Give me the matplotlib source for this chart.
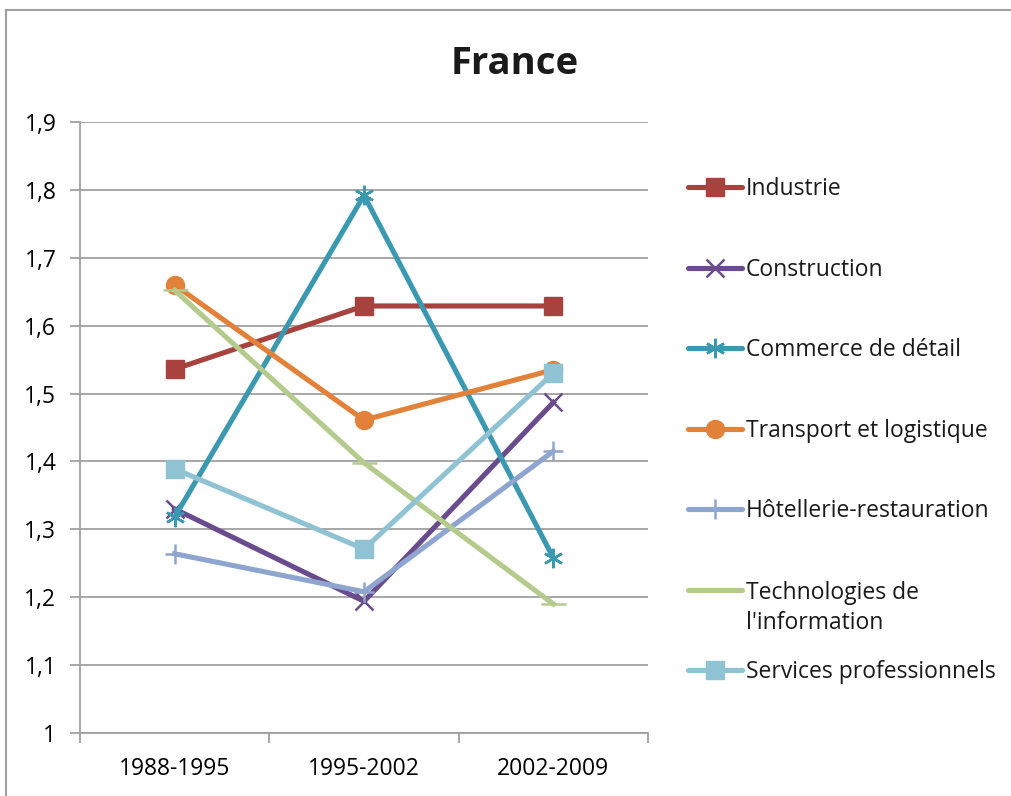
import matplotlib.pyplot as plt
from matplotlib.lines import Line2D
from matplotlib.patches import Rectangle
import numpy as np

plt.rcParams['font.family'] = ['Open Sans', 'DejaVu Sans']

periods = ["1988-1995", "1995-2002", "2002-2009"]
y_ticks = [1.0, 1.1, 1.2, 1.3, 1.4, 1.5, 1.6, 1.7, 1.8, 1.9]
y_tick_labels = ["1", "1,1", "1,2", "1,3", "1,4", "1,5", "1,6", "1,7", "1,8", "1,9"]

series_names = ["Industrie", "Construction", "Commerce de détail",
                "Transport et logistique", "Hôtellerie-restauration",
                "Technologies de\nl'information", "Services professionnels"]
industrie = [1.536, 1.629, 1.629]
construction = [1.330, 1.194, 1.487]
commerce = [1.318, 1.792, 1.258]
transport = [1.660, 1.461, 1.535]
hotellerie = [1.264, 1.208, 1.415]
technologies = [1.652, 1.398, 1.190]
services = [1.389, 1.271, 1.530]
all_values = [industrie, construction, commerce, transport, hotellerie, technologies, services]

colors = ["#A8423F", "#6A4C8E", "#3A98B1", "#E2823A", "#8EA6CF", "#B5CB8E", "#8FC3D4"]
markers = ["s", "x", "*", "o", "+", "_", "s"]
msizes = [13, 13, 14, 13, 14, 18, 13]

fig = plt.figure(figsize=(10.11, 7.96), dpi=100)
ax = fig.add_axes([80 / 1011, 1 - 733 / 796, 568 / 1011, 611 / 796])


def mk_of(m):
    # Excel's "star" marker looks like a 6-spoke asterisk
    return (6, 2, 0) if m == "*" else m


x = np.arange(len(periods))
for vals, c, m, ms in zip(all_values, colors, markers, msizes):
    if m in ("x", "+", "_", "*"):
        ax.plot(x, vals, color=c, lw=3.7, marker=mk_of(m), ms=ms, mew=1.8, zorder=3)
    else:
        ax.plot(x, vals, color=c, lw=3.7, marker=m, ms=ms, mec=c, zorder=3)

ax.set_xlim(-0.5, 2.5)
ax.set_ylim(1.0, 1.9)
ax.set_yticks(y_ticks)
ax.set_yticklabels(y_tick_labels, fontsize=16.5)
ax.set_xticks(x)
ax.set_xticklabels(periods, fontsize=16.5)
ax.set_xticks([-0.5, 0.5, 1.5, 2.5], minor=True)
ax.tick_params(axis='x', which='major', length=0, pad=17)
ax.tick_params(axis='x', which='minor', length=7, color='#A0A0A0', width=1.3)
ax.tick_params(axis='y', length=7, color='#A0A0A0', width=1.3, pad=10)
ax.grid(axis='y', color='#A0A0A0', lw=1.3)
ax.set_axisbelow(True)
for s in ['top', 'right']:
    ax.spines[s].set_visible(False)
for s in ['left', 'bottom']:
    ax.spines[s].set_color('#A0A0A0')
    ax.spines[s].set_linewidth(1.3)

fig.text(515 / 1011, 1 - 64 / 796, "France", fontsize=27.5, fontweight='bold',
         ha='center', va='center', color='#1A1A1A')

# legend drawn by hand, Excel style
leg_y = [187, 268, 348, 429, 509, 590, 670]
for name, c, m, ms, yy in zip(series_names, colors, markers, msizes, leg_y):
    fy = 1 - yy / 796
    fig.add_artist(Line2D([688 / 1011, 742 / 1011], [fy, fy], color=c, lw=3.7,
                          solid_capstyle='round'))
    fig.add_artist(Line2D([715 / 1011], [fy], color=c, marker=mk_of(m), ms=ms,
                          mew=1.8 if m in ("x", "+", "_", "*") else 1, mec=c))
    if "\n" in name:
        fig.text(746 / 1011, 1 - (yy + 18) / 796, name, fontsize=16.5, va='center',
                 color='#1A1A1A', linespacing=1.35)
    else:
        fig.text(746 / 1011, 1 - (yy + 2) / 796, name, fontsize=16.5, va='center',
                 color='#1A1A1A')

fig.add_artist(Rectangle((6 / 1011, -0.1), 1.2, 1 - 10 / 796 + 0.1, fill=False,
                         edgecolor='#A0A0A0', lw=1.5, transform=fig.transFigure))

fig.savefig("out.png", dpi=100)
